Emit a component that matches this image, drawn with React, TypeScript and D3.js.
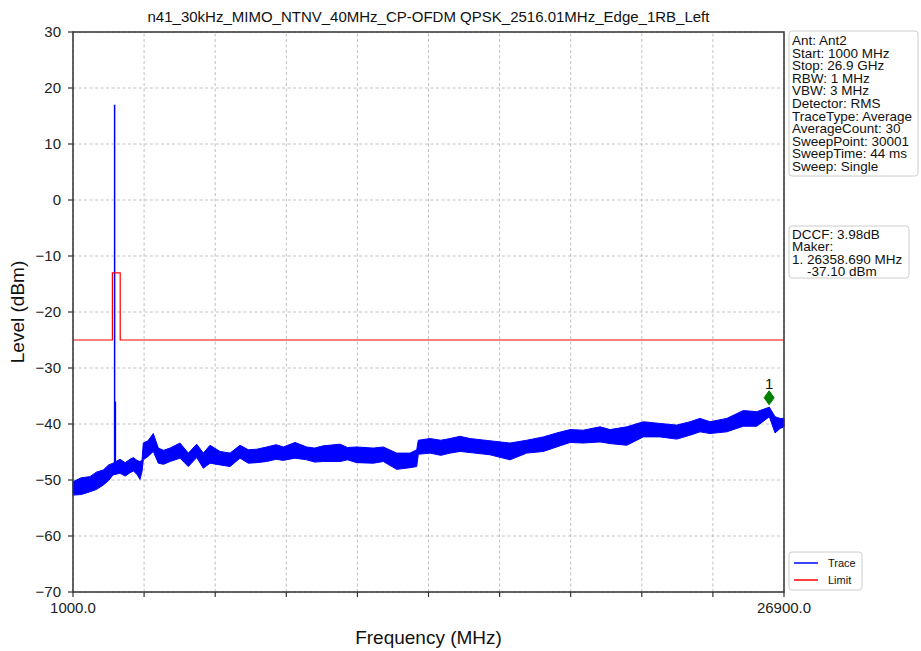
import React from "react";
import * as d3 from "d3";

// spectrum envelope (MHz, upper dBm, lower dBm)
const traceFreq = [
  1000, 1300, 1619, 1850, 2104, 2300, 2457, 2712, 2900, 3077, 3200, 3332, 3441, 3514, 3561, 3732, 3925, 4108,
  4300, 4534, 4898, 5200, 5506, 5747, 5991, 6355, 6720, 7084, 7386, 7700, 8056, 8400, 8661, 9087, 9514,
  9800, 10118, 10727, 11000, 11335, 11940, 12304, 12792, 13277, 13521, 13579, 14006, 14400, 14734, 15100,
  15463, 16191, 16920, 17528, 18133, 18621, 19106, 19590, 20199, 20563, 21171, 21776, 22384, 22993,
  23477, 23842, 24206, 24814, 25419, 25907, 26366, 26574, 26756, 26900,
];
const traceHigh = [
  -50.3, -49.6, -49.4, -48.6, -48.2, -47.3, -47.0, -46.3, -46.9, -46.3, -46.0, -46.5, -46.7, -46.5, -43.4,
  -43.0, -41.7, -44.3, -44.7, -44.3, -43.4, -45.2, -43.6, -45.2, -43.8, -44.9, -45.2, -43.8, -44.6, -44.5,
  -44.1, -43.7, -44.1, -43.3, -44.1, -44.3, -43.9, -43.6, -44.2, -44.1, -44.3, -44.1, -45.2, -45.2, -44.6,
  -42.9, -42.6, -42.9, -42.6, -42.2, -42.6, -43.0, -43.4, -42.9, -42.3, -41.6, -41.0, -41.1, -40.5, -41.0,
  -40.5, -39.6, -39.9, -40.2, -39.6, -39.0, -39.6, -39.0, -37.6, -37.8, -37.0, -38.7, -39.0, -39.0,
];
const traceLow = [
  -52.7, -52.6, -52.1, -51.7, -50.9, -50.1, -49.1, -48.8, -49.3, -48.7, -48.4, -49.0, -49.9, -48.5, -46.4,
  -45.8, -44.9, -47.0, -47.2, -46.7, -46.1, -47.6, -46.0, -47.9, -47.0, -47.3, -47.6, -46.1, -47.0, -46.9,
  -46.7, -46.3, -46.5, -46.1, -46.4, -46.8, -46.7, -46.7, -46.4, -46.9, -47.0, -46.7, -48.1, -47.8, -47.6,
  -45.4, -45.2, -45.6, -45.2, -44.9, -45.1, -45.5, -46.4, -45.2, -44.9, -44.1, -43.3, -43.4, -43.2, -43.5,
  -43.8, -42.3, -42.3, -42.7, -42.0, -41.4, -41.7, -41.4, -40.4, -40.4, -38.7, -41.6, -40.8, -40.5,
];

// carrier spikes (MHz, base dBm, top dBm)
const spikeFreq = [2516, 2535];
const spikeBase = [-47.5, -47.5];
const spikeTop = [17, -36];

const limitFreq = [1000, 2435, 2435, 2720, 2720, 26900];
const limitLevel = [-25, -25, -13, -13, -25, -25];

const markerFreq = 26358.69;
const markerLevel = -37.1;

const yTicks = [30, 20, 10, 0, -10, -20, -30, -40, -50, -60, -70];
const xTickCount = 10;
const xTickLabels = ["1000.0", "26900.0"];

const infoLines = [
  "Ant: Ant2",
  "Start: 1000 MHz",
  "Stop: 26.9 GHz",
  "RBW: 1 MHz",
  "VBW: 3 MHz",
  "Detector: RMS",
  "TraceType: Average",
  "AverageCount: 30",
  "SweepPoint: 30001",
  "SweepTime: 44 ms",
  "Sweep: Single",
];
const markerLines = ["DCCF: 3.98dB", "Maker:", "1. 26358.690 MHz", "    -37.10 dBm"];

const title = "n41_30kHz_MIMO_NTNV_40MHz_CP-OFDM QPSK_2516.01MHz_Edge_1RB_Left";
const font = "'Liberation Sans', Arial, sans-serif";

const W = 921;
const H = 651;
const m = { left: 73, right: 137, top: 32, bottom: 59 };

export default function App() {
  const x = d3.scaleLinear().domain([1000, 26900]).range([m.left, W - m.right]);
  const y = d3.scaleLinear().domain([-70, 30]).range([H - m.bottom, m.top]);
  const x0 = x.range()[0];
  const x1 = x.range()[1];
  const y0 = y.range()[0];
  const y1 = y.range()[1];

  const xTicks = d3.range(xTickCount + 1).map((i) => 1000 + (i * (26900 - 1000)) / xTickCount);

  const band = d3
    .area<number>()
    .x((i) => x(traceFreq[i]))
    .y0((i) => y(traceLow[i]))
    .y1((i) => y(traceHigh[i]));
  const bandPath = band(d3.range(traceFreq.length)) || "";

  const limitPath =
    d3
      .line<number>()
      .x((i) => x(limitFreq[i]))
      .y((i) => y(limitLevel[i]))(d3.range(limitFreq.length)) || "";

  const mx = x(markerFreq);
  const my = y(markerLevel) - 10;

  return (
    <svg
      width={W}
      height={H}
      style={{ position: "absolute", left: 0, top: 0, background: "#fff", fontFamily: font }}
    >
      <rect width={W} height={H} fill="#fff" />

      {/* grid */}
      <g stroke="#b0b0b0" strokeWidth={0.8} strokeDasharray="3,2.5">
        {yTicks.map((t) => (
          <line key={"gy" + t} x1={x0} x2={x1} y1={y(t)} y2={y(t)} />
        ))}
        {xTicks.map((t) => (
          <line key={"gx" + t} x1={x(t)} x2={x(t)} y1={y0} y2={y1} />
        ))}
      </g>

      <text x={(x0 + x1) / 2} y={22} textAnchor="middle" fontSize={15} fill="#111">
        {title}
      </text>

      {/* traces */}
      <path d={bandPath} fill="#0000ff" stroke="#0000ff" strokeWidth={1} strokeLinejoin="miter" />
      {spikeFreq.map((f, i) => (
        <line
          key={"sp" + i}
          x1={x(f)}
          x2={x(f)}
          y1={y(spikeBase[i])}
          y2={y(spikeTop[i])}
          stroke="#0000ff"
          strokeWidth={i === 0 ? 1.5 : 2}
        />
      ))}
      <path d={limitPath} fill="none" stroke="#ff0000" strokeWidth={1.2} />

      {/* marker */}
      <path
        d={`M${mx},${my - 7}L${mx + 5},${my}L${mx},${my + 7}L${mx - 5},${my}Z`}
        fill="#008000"
        stroke="#008000"
      />
      <text x={mx} y={my - 9} textAnchor="middle" fontSize={15} fill="#111">
        1
      </text>

      {/* frame */}
      <rect x={x0} y={y1} width={x1 - x0} height={y0 - y1} fill="none" stroke="#333" strokeWidth={1.5} />

      {/* axes */}
      <g fontSize={15} fill="#222">
        {yTicks.map((t) => (
          <g key={"yt" + t}>
            <line x1={x0 - 5} x2={x0} y1={y(t)} y2={y(t)} stroke="#333" strokeWidth={1.2} />
            <text x={x0 - 12} y={y(t) + 5} textAnchor="end">
              {d3.format("d")(t)}
            </text>
          </g>
        ))}
        {xTicks.map((t) => (
          <line key={"xt" + t} x1={x(t)} x2={x(t)} y1={y0} y2={y0 + 5} stroke="#333" strokeWidth={1.2} />
        ))}
        <text x={x0} y={y0 + 21} textAnchor="middle">
          {xTickLabels[0]}
        </text>
        <text x={x1} y={y0 + 21} textAnchor="middle">
          {xTickLabels[1]}
        </text>
      </g>

      <text x={(x0 + x1) / 2} y={644} textAnchor="middle" fontSize={19} fill="#111">
        Frequency (MHz)
      </text>
      <text
        transform={`translate(24,${(y0 + y1) / 2}) rotate(-90)`}
        textAnchor="middle"
        fontSize={19}
        fill="#111"
      >
        Level (dBm)
      </text>

      {/* info box */}
      <rect x={789} y={31} width={129} height={145} rx={3} fill="#fff" stroke="#ccc" strokeWidth={1} />
      {infoLines.map((s, i) => (
        <text key={"il" + i} x={792} y={45 + i * 12.6} fontSize={13.5} fill="#111">
          {s}
        </text>
      ))}

      <rect x={789} y={226} width={120} height={52} rx={3} fill="#fff" stroke="#ccc" strokeWidth={1} />
      {markerLines.map((s, i) => (
        <text key={"ml" + i} x={792} y={239 + i * 12.3} fontSize={13.5} fill="#111" style={{ whiteSpace: "pre" }}>
          {s}
        </text>
      ))}

      {/* legend */}
      <rect x={789} y={552} width={73} height={38} rx={3} fill="#fff" stroke="#ccc" strokeWidth={1} />
      <line x1={794} x2={818} y1={563} y2={563} stroke="#0000ff" strokeWidth={1.5} />
      <text x={828} y={567} fontSize={11} fill="#111">
        Trace
      </text>
      <line x1={794} x2={818} y1={580} y2={580} stroke="#ff0000" strokeWidth={1.5} />
      <text x={828} y={584} fontSize={11} fill="#111">
        Limit
      </text>
    </svg>
  );
}
